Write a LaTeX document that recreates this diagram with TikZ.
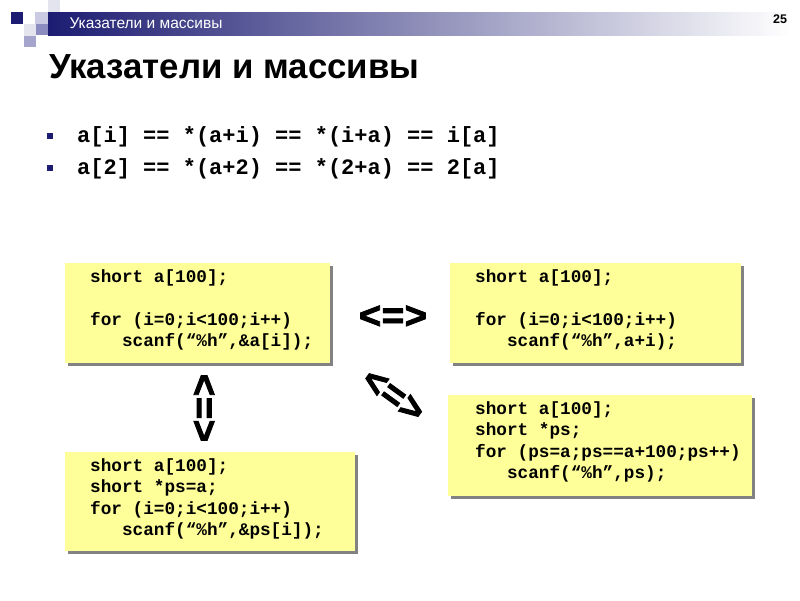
\documentclass[tikz,border=0pt]{standalone}
\usepackage{fontspec}
\setmainfont{Liberation Sans}
\setmonofont{Liberation Mono}
\newfontfamily\equivfont{Liberation Mono Bold}[FakeBold=2.5]
\usetikzlibrary{shadows}
\usetikzlibrary{positioning}

\definecolor{navy}{HTML}{1C1C72}
\definecolor{boxyellow}{HTML}{FFFF99}
\definecolor{sqlight}{HTML}{E4E4EE}
\definecolor{sqpale}{HTML}{CACAE2}
\definecolor{sqmid}{HTML}{8C8CC0}
\definecolor{sqsoft}{HTML}{A4A4CC}

\tikzset{
  codebox/.style={fill=boxyellow, anchor=north west, inner sep=0pt,
    drop shadow={shadow xshift=3pt, shadow yshift=-3pt, fill=black!65, opacity=0.75}},
  codetext/.style={align=left, inner sep=0pt,
    font=\fontsize{17.7}{21.5}\selectfont\ttfamily\bfseries},
  bulletline/.style={anchor=base west, inner sep=0pt,
    font=\fontsize{22}{26}\selectfont\ttfamily\bfseries},
  bulletsq/.style={fill=navy, minimum size=6pt, inner sep=0pt},
  equiv/.style={inner sep=0pt, font=\fontsize{38}{40}\selectfont\equivfont}
}

\begin{document}
\begin{tikzpicture}[x=1pt,y=-1pt]
    \useasboundingbox[fill=white] (0,0) rectangle (800,600);

    % Header
    \fill[sqlight] (48,0) rectangle (60,12);
    \fill[navy] (11,12) rectangle (23,24);
    \fill[sqpale] (35,12) rectangle (48,24);
    \fill[sqlight] (24,24) rectangle (36,36);
    \fill[sqmid] (36,24) rectangle (48,35);
    \fill[sqsoft] (24,36) rectangle (36,47);
    \shade[left color=navy, right color=white] (48,12) rectangle (790,35);
    \node[anchor=west, text=white, font=\fontsize{15.5}{17}\selectfont] (hdr) at (66,23.5) {Указатели и массивы};
    \node[font=\bfseries\fontsize{12.5}{14}\selectfont] (pagenum) at (780,19.5) {25};

    % Title
    \node[anchor=base west, inner sep=0pt, font=\bfseries\fontsize{34.8}{40}\selectfont] (title) at (49,78) {Указатели и массивы};

    % Bullets
    \node[bulletsq] (b1) at (50,136) {};
    \node[bulletline] (l1) at (77,142) {a[i] == *(a+i) == *(i+a) == i[a]};
    \node[bulletsq] (b2) at (50,168) {};
    \node[bulletline] (l2) at (77,174) {a[2] == *(a+2) == *(2+a) == 2[a]};

    % ================================
    % Boxes

    % a[i]
    \node[codebox, minimum width=265pt, minimum height=100pt] (box1) at (65,263) {};
    \node[codetext, below right=6pt and 25pt of box1.north west] (code1) {short a[100];\\
      \\
      for (i=0;i<100;i++)\\
      \phantom{for}scanf(“\%h”,\&a[i]);};

    % a+i
    \node[codebox, minimum width=291pt, minimum height=100pt] (box2) at (450,263) {};
    \node[codetext, below right=6pt and 25pt of box2.north west] (code2) {short a[100];\\
      \\
      for (i=0;i<100;i++)\\
      \phantom{for}scanf(“\%h”,a+i);};

    % ps++
    \node[codebox, minimum width=304pt, minimum height=101pt] (box3) at (448,395) {};
    \node[codetext, below right=6pt and 27pt of box3.north west] (code3) {short a[100];\\
      short *ps;\\
      for (ps=a;ps==a+100;ps++)\\
      \phantom{for}scanf(“\%h”,ps);};

    % ps[i]
    \node[codebox, minimum width=290pt, minimum height=99pt] (box4) at (65,452) {};
    \node[codetext, below right=6pt and 25pt of box4.north west] (code4) {short a[100];\\
      short *ps=a;\\
      for (i=0;i<100;i++)\\
      \phantom{for}scanf(“\%h”,\&ps[i]);};

    % ================================
    % Equivalences

    \node[equiv] (eqh) at (393,317) {<=>};
    \node[equiv, rotate=-90] (eqv) at (203,408) {<=>};
    \node[equiv, rotate=-36] (eqd) at (393,396) {<=>};

\end{tikzpicture}
\end{document}
